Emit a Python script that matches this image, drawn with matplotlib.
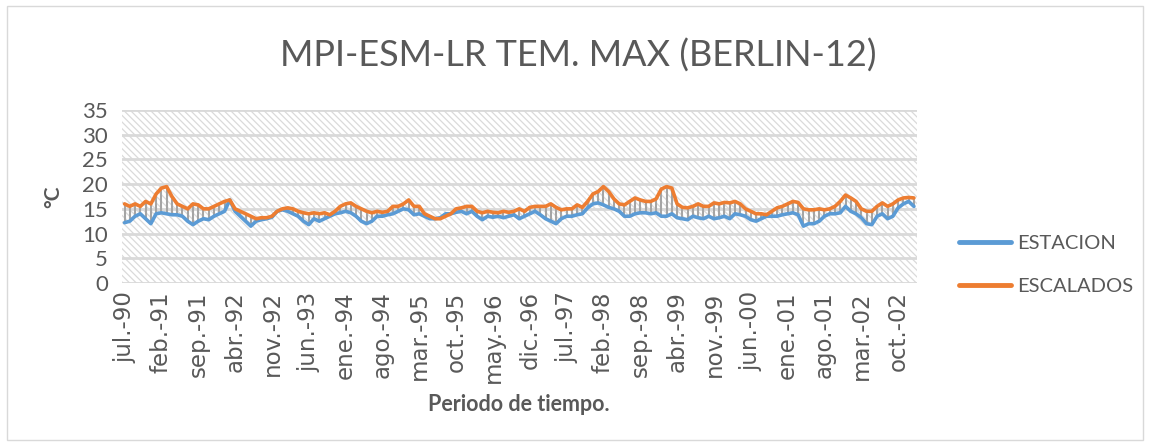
import matplotlib
matplotlib.use("Agg")
import matplotlib.pyplot as plt
import numpy as np

title = "MPI-ESM-LR TEM. MAX (BERLIN-12)"
series_names = ["ESTACION", "ESCALADOS"]
tick_labels = ["jul.-90", "feb.-91", "sep.-91", "abr.-92", "nov.-92", "jun.-93",
               "ene.-94", "ago.-94", "mar.-95", "oct.-95", "may.-96", "dic.-96",
               "jul.-97", "feb.-98", "sep.-98", "abr.-99", "nov.-99", "jun.-00",
               "ene.-01", "ago.-01", "mar.-02", "oct.-02"]
tick_step_months = 7

escalados = [16, 15.5, 16, 15.5, 16.5, 16, 18, 19.2, 19.5, 17.5,
             16, 15.5, 15, 16, 15.8, 15, 15, 15.5, 16, 16.5, 16.8, 15, 14.5, 14, 13.5, 13, 13.2, 13.2, 13.5,
             14.5, 15, 15.2, 15, 14.5, 14.2, 14, 14.2, 14, 14.2, 13.8, 14.5, 15.5, 16, 16.2, 15.5, 15, 14.5, 14.2,
             14.5, 14.3, 14.5, 15.5, 15.5, 16, 16.8, 15.5, 15.5, 14, 13.5, 13, 13, 13.5, 14, 15, 15.2, 15.5, 15.5,
             14.5, 14.2, 14.5, 14.3, 14.2, 14.5, 14.3, 14.5, 15, 14.5, 15.3, 15.5, 15.5, 15.5, 16, 15.3, 14.8, 15, 15,
             15.8, 15.3, 16.5, 18, 18.5, 19.5, 18.5, 17, 16, 15.8, 16.5, 17.2, 16.8, 16.5, 16.5, 17, 19, 19.5, 19.2,
             16, 15.3, 15.2, 15.5, 16, 15.5, 15.5, 16.2, 16, 16.3, 16.2, 16.5, 16, 15, 14.5, 14, 14, 13.8, 14.5,
             15.2, 15.5, 16, 16.5, 16.3, 15, 14.8, 14.8, 15, 14.8, 15, 15.5, 16.5, 17.8, 17.2, 16.5, 15, 14.5, 14.5,
             15.5, 16.2, 15.5, 16, 16.8, 17.2, 17.3, 17.2]

estacion = [12.2, 12.5, 13.5, 14, 13, 12, 14, 14.2, 14, 13.8,
            13.8, 13.5, 12.5, 11.8, 12.5, 13, 12.8, 13.5, 14, 14.5, 16.8, 14.5, 13.5, 12.5, 11.5, 12.5, 12.8, 13, 13.3,
            14.5, 14.8, 14.5, 14, 13.5, 12.5, 11.8, 13, 12.5, 13, 13.5, 14, 14.2, 14.5, 14.2, 13.5, 12.5, 12, 12.5,
            13.5, 13.5, 13.8, 14, 14.5, 15, 14.8, 13.8, 14, 13.5, 13, 13, 13.2, 14, 14, 14.3, 14.5, 14, 14.5,
            13.5, 12.8, 13.5, 13.3, 13.5, 13.2, 13.5, 13.8, 13, 13.5, 14, 14.5, 13.8, 13, 12.5, 12, 13, 13.5, 13.5,
            13.8, 14, 15.2, 16, 16.2, 15.8, 15.3, 15, 14.5, 13.5, 13.5, 14, 14.2, 14.2, 14, 14.2, 13.5, 13.5, 14,
            13.2, 13, 12.8, 13.5, 13.2, 13, 13.5, 13, 13.2, 13.5, 13, 14, 13.8, 13.5, 12.8, 12.5, 13, 13.5, 13.5,
            13.5, 13.8, 14, 14.2, 13.8, 11.5, 12, 12, 12.5, 13.5, 14, 14, 14.2, 15.5, 14.5, 14, 13.2, 12, 11.8,
            13.5, 14, 13, 13.5, 15.2, 16, 16.5, 15.5]

yticks = [0, 5, 10, 15, 20, 25, 30, 35]

TXT = "#595959"
GRID = "#d9d9d9"
BLUE = "#5B9BD5"
ORANGE = "#ED7D31"

plt.rcParams['font.family'] = ['Lato', 'DejaVu Sans']
plt.rcParams['hatch.color'] = '#dadada'
plt.rcParams['hatch.linewidth'] = 0.9

fig = plt.figure(figsize=(11.5, 4.45), dpi=100)
fig.patch.set_facecolor('white')
border = plt.Rectangle((0.006, 0.012), 0.988, 0.975, transform=fig.transFigure,
                       fill=False, edgecolor='#d9d9d9', linewidth=1.0)
fig.add_artist(border)

ax = fig.add_axes([0.106, 0.364, 0.691, 0.389])
n = len(estacion)
x = np.arange(n)

ax.add_patch(plt.Rectangle((0, 0), 1, 1, transform=ax.transAxes, facecolor='white',
                           hatch='\\\\\\\\\\', edgecolor='#dadada', linewidth=0, zorder=0))
for yv in yticks:
    ax.axhline(yv, color=GRID, linewidth=2.0, zorder=1)

lo = np.minimum(estacion, escalados)
hi = np.maximum(estacion, escalados)
ax.vlines(x, lo, hi, color='#A5A5A5', linewidth=1.5, zorder=2)
ax.plot(x, estacion, color=BLUE, linewidth=2.6, solid_capstyle='round', zorder=3, label=series_names[0])
ax.plot(x, escalados, color=ORANGE, linewidth=2.6, solid_capstyle='round', zorder=4, label=series_names[1])

ax.set_xlim(-0.5, n - 0.5)
ax.set_ylim(0, 35)
ax.set_yticks(yticks)
ax.set_yticklabels([str(v) for v in yticks], fontsize=16, color=TXT)
tick_pos = list(range(0, n, tick_step_months))[:len(tick_labels)]
ax.set_xticks(tick_pos)
ax.set_xticklabels(tick_labels, rotation=90, fontsize=16.5, color=TXT, family=['DejaVu Sans'])
ax.tick_params(axis='x', length=0, pad=6)
ax.tick_params(axis='y', length=0, pad=10)
for s in ax.spines.values():
    s.set_visible(False)

ax.set_ylabel("°C", fontsize=15, fontweight='bold', color=TXT, labelpad=14)
ax.set_xlabel("Periodo de tiempo.", fontsize=15.5, fontweight='bold', color=TXT, labelpad=8)

fig.text(0.503, 0.875, title, ha='center', va='center', fontsize=26, color=TXT)

leg = fig.legend(loc='center left', bbox_to_anchor=(0.818, 0.405), frameon=False,
                 fontsize=14.5, handlelength=2.6, labelspacing=1.3, handletextpad=0.3)
for t in leg.get_texts():
    t.set_color(TXT)
for h in leg.legend_handles:
    h.set_linewidth(3.5)

fig.savefig("out.png", dpi=100, facecolor='white')
